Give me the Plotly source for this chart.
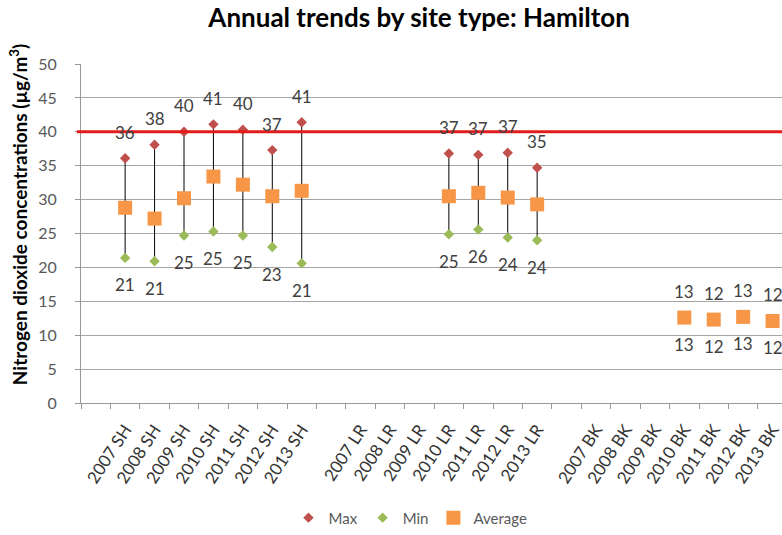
import plotly.graph_objects as go

# Annual NO2 summary per site type (SH, LR, BK), 2007-2013
years = ["2007", "2008", "2009", "2010", "2011", "2012", "2013"]
site_types = ["SH", "LR", "BK"]

max_sh = [36.1, 38.1, 40.0, 41.1, 40.3, 37.3, 41.4]
min_sh = [21.4, 20.9, 24.7, 25.3, 24.7, 23.0, 20.6]
avg_sh = [28.8, 27.2, 30.2, 33.4, 32.2, 30.5, 31.3]

max_lr = [None, None, None, 36.8, 36.6, 36.9, 34.7]
min_lr = [None, None, None, 24.9, 25.6, 24.4, 24.0]
avg_lr = [None, None, None, 30.5, 31.0, 30.3, 29.3]

max_bk = [None, None, None, 12.6, 12.3, 12.7, 12.1]
min_bk = [None, None, None, 12.6, 12.3, 12.7, 12.1]
avg_bk = [None, None, None, 12.6, 12.3, 12.7, 12.1]

limit_value = 40

# Category axis: a blank slot precedes each site-type group
categories = []
max_all, min_all, avg_all = [], [], []
groups = {"SH": (max_sh, min_sh, avg_sh),
          "LR": (max_lr, min_lr, avg_lr),
          "BK": (max_bk, min_bk, avg_bk)}
for i, st in enumerate(site_types):
    categories.append(" " * (i + 1))
    max_all.append(None)
    min_all.append(None)
    avg_all.append(None)
    mx, mn, av = groups[st]
    for j, y in enumerate(years):
        categories.append(f"{y} {st}")
        max_all.append(mx[j])
        min_all.append(mn[j])
        avg_all.append(av[j])

# High-low connector segments
hl_x, hl_y = [], []
for c, lo, hi in zip(categories, min_all, max_all):
    if lo is not None and hi is not None:
        hl_x += [c, c, None]
        hl_y += [lo, hi, None]

fig = go.Figure()
fig.add_trace(go.Scatter(x=hl_x, y=hl_y, mode="lines",
                         line=dict(color="black", width=1),
                         showlegend=False, hoverinfo="skip"))
fig.add_trace(go.Scatter(x=categories, y=max_all, mode="markers", name="Max",
                         marker=dict(symbol="diamond", size=8, color="#c0504d")))
fig.add_trace(go.Scatter(x=categories, y=min_all, mode="markers", name="Min",
                         marker=dict(symbol="diamond", size=8, color="#9bbb59")))
fig.add_trace(go.Scatter(x=categories, y=avg_all, mode="markers", name="Average",
                         marker=dict(symbol="square", size=14, color="#f79646")))

label_font = dict(family="Lato", size=17, color="#404040")
annotations = []
for c, hi, lo in zip(categories, max_all, min_all):
    if hi is not None:
        annotations.append(dict(x=c, y=hi, text=f"{hi:.0f}", showarrow=False,
                                yshift=26, font=label_font))
    if lo is not None:
        annotations.append(dict(x=c, y=lo, text=f"{lo:.0f}", showarrow=False,
                                yshift=-27, font=label_font))

annotations.append(dict(text="Nitrogen dioxide concentrations (µg/m<sup>3</sup>)",
                        xref="paper", yref="paper", x=-0.088, y=0.555,
                        xanchor="center", yanchor="middle", textangle=-90,
                        showarrow=False,
                        font=dict(family="Lato", size=19, color="black", weight="bold")))

fig.add_shape(type="line", xref="paper", yref="y", x0=-0.006, x1=1,
              y0=limit_value, y1=limit_value,
              line=dict(color="#e31b1b", width=3), layer="above")

fig.update_layout(
    width=782, height=535,
    margin=dict(l=81, r=0, t=64, b=129),
    paper_bgcolor="white", plot_bgcolor="white",
    font=dict(family="Lato", color="#404040"),
    title=dict(text="<b>Annual trends by site type: Hamilton</b>",
               xref="container", yref="container", x=0.536, y=0.966,
               xanchor="center", yanchor="middle",
               font=dict(family="Lato", size=26, color="black")),
    xaxis=dict(type="category", categoryorder="array", categoryarray=categories,
               range=[-0.5, 23.32], showgrid=False, showline=True,
               linecolor="#999999", linewidth=1, ticks="outside",
               tickson="boundaries", ticklen=5, tickcolor="#999999",
               tickangle=-57, ticklabelstandoff=9,
               tickfont=dict(family="Lato", size=17, color="#333333"),
               fixedrange=True),
    yaxis=dict(range=[0, 50], dtick=5, showgrid=True, gridcolor="#a6a6a6",
               gridwidth=1, showline=True, linecolor="#999999", linewidth=1,
               ticks="outside", ticklen=5, tickcolor="#999999",
               tickfont=dict(family="Lato", size=16, color="#595959"),
               ticklabelstandoff=15, zeroline=False, fixedrange=True),
    legend=dict(orientation="h", x=0.47, y=-0.339, xanchor="center",
                yanchor="middle", font=dict(family="Lato", size=15, color="#595959"),
                itemwidth=30, tracegroupgap=0),
    annotations=annotations,
    showlegend=True,
)

fig.write_html("out.html")
